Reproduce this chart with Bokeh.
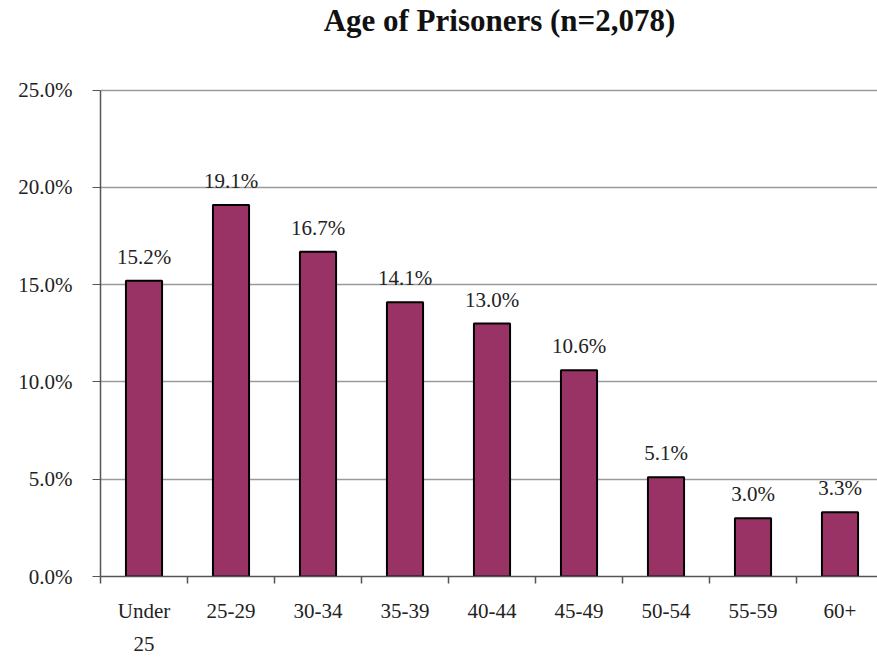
from bokeh.plotting import figure
from bokeh.models import ColumnDataSource, FixedTicker, Range1d, Label, LabelSet
from bokeh.embed import file_html
from bokeh.resources import INLINE

title_text = "Age of Prisoners (n=2,078)"
categories = ["Under\n25", "25-29", "30-34", "35-39", "40-44", "45-49", "50-54", "55-59", "60+"]
values = [15.2, 19.1, 16.7, 14.1, 13.0, 10.6, 5.1, 3.0, 3.3]
y_ticks = [0, 5, 10, 15, 20, 25]
y_tick_labels = ["0.0%", "5.0%", "10.0%", "15.0%", "20.0%", "25.0%"]

FONT = "Liberation Serif"

xs = [i + 0.5 for i in range(len(categories))]
src = ColumnDataSource(dict(x=xs, top=values, lab=[f"{v:.1f}%" for v in values]))

Y_MAX = y_ticks[-1]
# frame spans the whole height above the x axis; extra headroom holds the title
p = figure(width=877, height=658, output_backend="svg", toolbar_location=None,
           x_range=Range1d(0, 8.931), y_range=Range1d(0, Y_MAX * 578 / 488),
           min_border_left=100, min_border_right=0, min_border_top=0, min_border_bottom=80)
p.outline_line_color = None
p.background_fill_color = "white"

p.vbar(x="x", top="top", width=0.415, source=src, fill_color="#993366",
       line_color="black", line_width=2)

p.add_layout(LabelSet(x="x", y="top", text="lab", source=src, y_offset=12,
                      text_align="center", text_baseline="bottom",
                      text_font=FONT, text_font_size="21px", text_color="#222222"))

p.add_layout(Label(x=4.586, y=Y_MAX, y_offset=70, text=title_text,
                   text_align="center", text_baseline="alphabetic",
                   text_font=FONT, text_font_size="31px", text_font_style="bold",
                   text_color="#111111"))

# y axis
p.yaxis.bounds = (0, Y_MAX)
p.yaxis.ticker = FixedTicker(ticks=y_ticks)
p.yaxis.major_label_overrides = {t: l for t, l in zip(y_ticks, y_tick_labels)}
p.yaxis.major_label_text_font = FONT
p.yaxis.major_label_text_font_size = "21px"
p.yaxis.major_label_text_color = "#222222"
p.yaxis.major_label_standoff = 20
p.yaxis.major_tick_out = 8
p.yaxis.major_tick_in = 0
p.yaxis.minor_tick_line_color = None
p.yaxis.axis_line_color = "#555555"
p.yaxis.major_tick_line_color = "#555555"
p.yaxis.axis_line_width = 1.5

# x axis
p.xaxis.ticker = FixedTicker(ticks=xs, minor_ticks=list(range(len(categories) + 1)))
p.xaxis.major_label_overrides = {x: c for x, c in zip(xs, categories)}
p.xaxis.major_tick_line_color = None
p.xaxis.minor_tick_out = 7
p.xaxis.minor_tick_in = 0
p.xaxis.minor_tick_line_color = "#555555"
p.xaxis.minor_tick_line_width = 1.5
p.xaxis.axis_line_color = "#555555"
p.xaxis.axis_line_width = 1.5
p.xaxis.major_label_text_font = FONT
p.xaxis.major_label_text_font_size = "21px"
p.xaxis.major_label_text_color = "#222222"
p.xaxis.major_label_standoff = 15
p.xaxis.major_label_text_line_height = 1.38

p.xgrid.grid_line_color = None
p.ygrid.ticker = FixedTicker(ticks=y_ticks)
p.ygrid.grid_line_color = "#9a9a9a"
p.ygrid.grid_line_width = 1.5

open("out.html", "w").write(file_html(p, INLINE))
